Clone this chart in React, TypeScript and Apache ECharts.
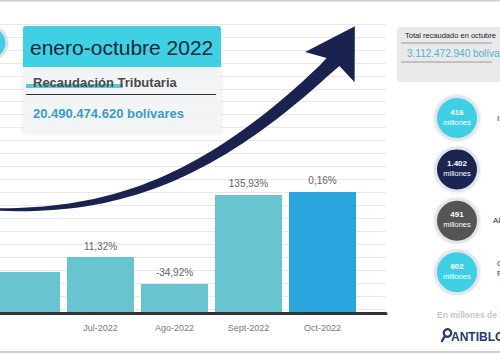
import React, { useEffect, useRef } from "react";
import * as echarts from "echarts";

// ---- data ----
const months = ["Jun-2022", "Jul-2022", "Ago-2022", "Sept-2022", "Oct-2022"];
// bar heights (arbitrary units of the un-labelled value axis)
const barValues = [3.06, 4.2, 2.14, 8.94, 9.17];
const pctLabels = ["", "11,32%", "-34,92%", "135,93%", "0,16%"];
const highlightIndex = 4;

const circleValues = ["416", "1.402", "491", "802"];
const circleUnits = ["millones", "millones", "millones", "millones"];
const circleColors = ["#3FCFE4", "#1C2452", "#555555", "#3FCFE4"];
const circleNames = [["ISLR"], [""], ["ADUANAS"], ["CONTRIBUCIONES", "RENTAS"]];

const periodTitle = "enero-octubre 2022";
const subtitle = "Recaudación Tributaria";
const totalPeriod = "20.490.474.620 bolívares";
const octTitle = "Total recaudado en octubre";
const octTotal = "3.112.472.940 bolívares";
const unitNote = "En millones de bolívares";

const FONT = "'Liberation Sans', Arial, sans-serif";

function arrowPoints(): number[][] {
  const P = [
    [0, 209.5],
    [120, 212],
    [215, 175],
    [333, 62],
  ];
  const bz = (t: number) => {
    const u = 1 - t;
    return [0, 1].map(
      (k) => u * u * u * P[0][k] + 3 * u * u * t * P[1][k] + 3 * u * t * t * P[2][k] + t * t * t * P[3][k]
    );
  };
  const dbz = (t: number) => {
    const u = 1 - t;
    return [0, 1].map(
      (k) =>
        3 * u * u * (P[1][k] - P[0][k]) + 6 * u * t * (P[2][k] - P[1][k]) + 3 * t * t * (P[3][k] - P[2][k])
    );
  };
  const N = 40;
  const upper: number[][] = [];
  const lower: number[][] = [];
  for (let i = 0; i < N; i++) {
    const t = i / N;
    const c = bz(t);
    const d = dbz(t);
    const len = Math.hypot(d[0], d[1]);
    const n = [d[1] / len, -d[0] / len];
    const w = 2.5 + 11 * Math.pow(t, 0.9);
    upper.push([c[0] + (n[0] * w) / 2, c[1] + (n[1] * w) / 2]);
    lower.push([c[0] - (n[0] * w) / 2, c[1] - (n[1] * w) / 2]);
  }
  const E = P[3];
  const hd = [0.52, -0.854];
  const hn = [-0.854, -0.52];
  const pt = (a: number, b: number) => [E[0] + hn[0] * a + hd[0] * b, E[1] + hn[1] * a + hd[1] * b];
  return [
    ...upper,
    pt(7.5, 0),
    pt(29, -6),
    pt(0, 42),
    pt(-29, -6),
    pt(-7.5, 0),
    ...lower.reverse(),
  ];
}

export default function App() {
  const ref = useRef<HTMLDivElement>(null);

  useEffect(() => {
    if (!ref.current) return;
    const chart = echarts.init(ref.current, null, { renderer: "svg" });

    const circleGraphics: any[] = [];
    circleValues.forEach((v, i) => {
      const cx = 457;
      const cy = 118 + i * 51.4;
      circleGraphics.push({
        type: "circle",
        shape: { cx, cy, r: 23 },
        style: { fill: "#E2E6EA", shadowBlur: 3, shadowColor: "rgba(0,0,0,0.12)" },
      });
      circleGraphics.push({ type: "circle", shape: { cx, cy, r: 20 }, style: { fill: circleColors[i] } });
      circleGraphics.push({
        type: "text",
        x: cx,
        y: cy - 6,
        style: { text: v, fill: "#fff", font: `bold 8px ${FONT}`, align: "center", verticalAlign: "middle" },
      });
      circleGraphics.push({
        type: "text",
        x: cx,
        y: cy + 4,
        style: { text: circleUnits[i], fill: "#fff", font: `7.5px ${FONT}`, align: "center", verticalAlign: "middle" },
      });
      const names = circleNames[i];
      names.forEach((nm, j) => {
        if (!nm) return;
        circleGraphics.push({
          type: "text",
          x: i === 2 ? 493 : 497,
          y: names.length > 1 ? cy - 9 + j * 10 : cy,
          style: { text: nm, fill: "#333", font: `8px ${FONT}`, verticalAlign: "middle" },
        });
      });
    });

    const graphics: any[] = [
      { type: "rect", shape: { x: 0, y: 0, width: 500, height: 1.5 }, style: { fill: "#cfcfcf" } },
      { type: "rect", shape: { x: 0, y: 351, width: 500, height: 2 }, style: { fill: "#cfcfcf" } },
      // left decorative circle
      { type: "circle", shape: { cx: -9, cy: 43, r: 17.5 }, style: { fill: "#DCE2E6" } },
      { type: "circle", shape: { cx: -9, cy: 43, r: 14.5 }, style: { fill: "#40CFE3" } },
      // info panel
      {
        type: "rect",
        shape: { x: 23, y: 67, width: 198, height: 66 },
        style: { fill: "rgba(242,243,245,0.94)", shadowBlur: 4, shadowColor: "rgba(0,0,0,0.10)" },
      },
      {
        type: "rect",
        shape: { x: 23, y: 26, width: 198, height: 41, r: [3, 3, 0, 0] },
        style: { fill: "#40D0E4" },
      },
      {
        type: "text",
        x: 30,
        y: 47,
        style: { text: periodTitle, fill: "#1B2838", font: `21px ${FONT}`, verticalAlign: "middle" },
      },
      { type: "rect", shape: { x: 26, y: 84, width: 97, height: 4 }, style: { fill: "#5DC7D6" } },
      {
        type: "text",
        x: 33,
        y: 82,
        style: { text: subtitle, fill: "#4a4a4a", font: `bold 13px ${FONT}`, verticalAlign: "middle" },
      },
      { type: "line", shape: { x1: 26, y1: 94.5, x2: 216, y2: 94.5 }, style: { stroke: "#333", lineWidth: 1 } },
      {
        type: "text",
        x: 33,
        y: 113,
        style: { text: totalPeriod, fill: "#3A9CC9", font: `bold 13px ${FONT}`, verticalAlign: "middle" },
      },
      // arrow
      { type: "polygon", shape: { points: arrowPoints() }, style: { fill: "#1A2350" } },
      // right box
      {
        type: "rect",
        shape: { x: 397, y: 27, width: 110, height: 55, r: 3 },
        style: { fill: "#E9E9EB" },
      },
      {
        type: "text",
        x: 405,
        y: 35,
        style: { text: octTitle, fill: "#222", font: `7.5px ${FONT}`, verticalAlign: "middle" },
      },
      { type: "line", shape: { x1: 401, y1: 43, x2: 492, y2: 43 }, style: { stroke: "#9a9a9a", lineWidth: 1 } },
      {
        type: "text",
        x: 407,
        y: 53,
        style: { text: octTotal, fill: "#4CB5CB", font: `10px ${FONT}`, verticalAlign: "middle" },
      },
      { type: "line", shape: { x1: 401, y1: 62, x2: 492, y2: 62 }, style: { stroke: "#9a9a9a", lineWidth: 1 } },
      ...circleGraphics,
      {
        type: "text",
        x: 437,
        y: 315,
        style: { text: unitNote, fill: "#c6c6c6", font: `bold 8.5px ${FONT}`, verticalAlign: "middle" },
      },
      // logo
      {
        type: "circle",
        shape: { cx: 447.5, cy: 333, r: 3.8 },
        style: { fill: "none", stroke: "#1F3B72", lineWidth: 2.2 },
      },
      {
        type: "line",
        shape: { x1: 445, y1: 336, x2: 442, y2: 341 },
        style: { stroke: "#1F3B72", lineWidth: 2.4, lineCap: "round" },
      },
      {
        type: "text",
        x: 451,
        y: 337,
        style: { text: "ANTIBLOQUEO", fill: "#1F3B72", font: `bold 12px ${FONT}`, verticalAlign: "middle" },
      },
    ];

    // bar positions: x value = category index on a value axis so the first band can start left of the canvas
    const barData = barValues.map((v, i) => ({
      value: [i, v],
      itemStyle: { color: i === highlightIndex ? "#2BA5DD" : "#68C4CE" },
    }));

    const option: any = {
      animation: false,
      backgroundColor: "#ffffff",
      textStyle: { fontFamily: FONT },
      grid: [
        { left: 0, top: 24, width: 386, height: 285 },
        { left: 0, top: 24, width: 386, height: 288 },
      ],
      xAxis: [
        {
          gridIndex: 0,
          type: "value",
          min: 0,
          max: 1,
          offset: 4,
          axisLine: { show: true, onZero: false, lineStyle: { color: "#333", width: 3 } },
          axisTick: { show: false },
          axisLabel: { show: false },
          splitLine: { show: false },
        },
        {
          gridIndex: 1,
          type: "value",
          min: -26.5 / 74,
          max: (386 - 26.5) / 74,
          axisLine: { show: false },
          axisTick: { show: false },
          splitLine: { show: false },
          axisLabel: {
            show: true,
            customValues: [1, 2, 3, 4],
            color: "#777",
            fontSize: 9,
            margin: 11,
            formatter: (val: number) => months[Math.round(val)] ?? "",
          },
        },
      ],
      yAxis: [
        {
          gridIndex: 0,
          type: "value",
          min: 0,
          max: 22,
          interval: 1,
          axisLine: { show: false },
          axisTick: { show: false },
          axisLabel: { show: false },
          splitLine: { show: true, lineStyle: { color: "#E8E8E8", width: 1 } },
        },
        { gridIndex: 1, type: "value", min: 0, max: 22, show: false, splitLine: { show: false } },
      ],
      series: [
        { type: "line", xAxisIndex: 0, yAxisIndex: 0, data: [], silent: true },
        {
          type: "bar",
          xAxisIndex: 1,
          yAxisIndex: 1,
          barWidth: 67,
          data: barData,
          label: {
            show: true,
            position: "top",
            distance: 6,
            color: "#666",
            fontSize: 10,
            formatter: (p: any) => pctLabels[p.dataIndex],
          },
        },
      ],
      graphic: graphics.map((g) => ({ ...g, z: 100 })),
    };

    chart.setOption(option);
    return () => chart.dispose();
  }, []);

  return (
    <div
      ref={ref}
      style={{ position: "absolute", left: 0, top: 0, width: 500, height: 353, background: "#fff" }}
    />
  );
}
